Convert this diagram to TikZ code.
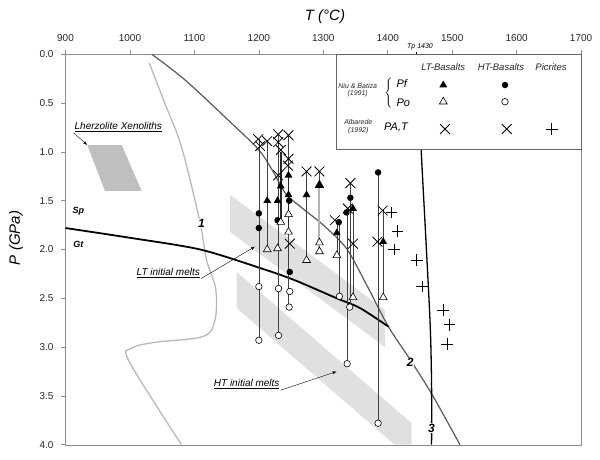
\documentclass[tikz,border=0pt]{standalone}
\usepackage{fontspec}
\setmainfont{Liberation Sans}
\usetikzlibrary{shapes.geometric}
\usetikzlibrary{shapes.misc}
\usetikzlibrary{arrows.meta}

\begin{document}
\begin{tikzpicture}[x=1pt, y=-1pt,
    axis/.style={draw=black!45, line width=0.6pt},
    tick/.style={font=\fontsize{10}{12}\selectfont, text=black!85},
    note/.style={font=\fontsize{10}{12}\selectfont\itshape, inner sep=1pt},
    lg/.style={font=\fontsize{9.5}{11}\selectfont\itshape, text=black!85},
    cnum/.style={font=\fontsize{12}{14}\selectfont\bfseries\itshape, fill=white, inner sep=0.5pt},
    arr/.style={-{Latex[length=4pt,width=3pt]}, line width=0.4pt},
    col/.style={draw=black!75, line width=0.5pt},
    ftri/.style={regular polygon, regular polygon sides=3, fill=black, inner sep=0pt, minimum size=9pt},
    otri/.style={regular polygon, regular polygon sides=3, draw=black, fill=white, line width=0.6pt, inner sep=0pt, minimum size=9pt},
    fdot/.style={circle, fill=black, inner sep=0pt, minimum size=6.5pt},
    odot/.style={circle, draw=black, fill=white, line width=0.6pt, inner sep=0pt, minimum size=6.5pt},
    xmk/.style={cross out, draw=black, line width=0.8pt, inner sep=0pt, minimum size=9pt},
    pmk/.style={cross out, draw=black, line width=0.8pt, inner sep=0pt, minimum size=7.5pt, rotate=45}]
\useasboundingbox (0,0) rectangle (600,459);

% frame, ticks, axis titles
\draw[axis] (65.5,54.3) rectangle (581,445);
\foreach \v [count=\k from 0] in {900,1000,...,1700} {
    \draw[axis] (65.5+64.45*\k,54.3) -- ++(0,-4);
    \node[tick] (tx\k) at (65.5+64.45*\k,38.5) {\v};
}
\foreach \v [count=\k from 0] in {0.0,0.5,1.0,1.5,2.0,2.5,3.0,3.5,4.0} {
    \draw[axis] (65.5,54.3+48.8*\k) -- ++(-5,0);
    \node[tick, anchor=east] (ty\k) at (57,54.3+48.8*\k) {\v};
}
\node[font=\fontsize{15}{18}\selectfont\itshape] (tlab) at (325,17) {T (°C)};
\node[font=\fontsize{15}{18}\selectfont\itshape, rotate=90] (plab) at (16,238) {P (GPa)};
\draw[black, line width=0.8pt] (416.7,54.3) -- ++(0,-2.5);
\node[font=\fontsize{7}{8}\selectfont\itshape] (tp) at (420,46.5) {Tp 1430};

\begin{scope}[x=0.6445pt, y=-97.6pt, shift={(-514.55pt,-54.3pt)}]
    % melt bands and xenolith field
    \fill[gray!24] (1155.5,1.44) -- (1395.9,2.62) -- (1395.9,3.0) -- (1155.5,1.82) -- cycle;
    \fill[gray!24] (1165.6,2.23) -- (1437.2,3.78) -- (1437.2,4.0) -- (1410.8,4.0) -- (1165.6,2.6) -- cycle;
    \fill[gray!50] (933.8,0.93) -- (987.2,0.93) -- (1018.2,1.4) -- (961.3,1.4) -- cycle;
    \coordinate (lzc) at (933.8,0.93);
    \coordinate (ltb) at (1194,1.97);
    \coordinate (htb) at (1320.8,3.25);

    % curves 1, 2, 3 and Sp/Gt
    \draw[gray!55, line width=1.3pt] plot[smooth, tension=0.55] coordinates {(1030,0.09) (1054,0.50) (1080,0.95) (1108,1.70) (1119,2.11) (1133,2.40) (1132,2.72) (1114,2.89) (1040,2.95) (1003,3.01) (999,3.15) (1080,4.0)};
    \draw[black!65, line width=1.2pt] plot[smooth] coordinates {(1034,0) (1085,0.26) (1155,0.69) (1200,0.98) (1222,1.20) (1242,1.43) (1268,1.58) (1300,1.75) (1336,1.99) (1367,2.36) (1401,2.79) (1436,3.14) (1470,3.50) (1512,4.0)};
    \draw[black, line width=1.3pt] plot[smooth] coordinates {(1445,0) (1452,1.0) (1460,2.0) (1466,2.8) (1468,3.4) (1468,4.0)};
    \draw[black, line width=1.8pt] plot[smooth] coordinates {(900,1.78) (1000,1.88) (1109,2.0) (1202,2.19) (1254,2.31) (1321,2.50) (1357,2.60) (1401,2.79)};
    \node[cnum] (n1) at (1111,1.73) {1};
    \node[cnum] (n2) at (1435,3.16) {2};
    \node[cnum] (n3) at (1468,3.83) {3};

    % sample columns
    \foreach \t/\pa/\pb in {1200/0.87/2.93, 1213/0.89/2.00, 1230.5/0.82/2.88, 1246/0.83/2.59, 1274/1.20/2.11, 1294/1.20/2.02, 1321/1.70/2.06, 1325/1.72/2.48, 1337/1.60/3.17, 1342/1.32/2.59, 1346/1.58/2.49, 1385/1.21/3.78, 1393/1.60/2.49}
        \draw[col] (\t,\pa) -- (\t,\pb);
    \draw[black!85, line width=1.5pt] (1234,1.0) -- (1234,1.72);
    \draw[black!85, line width=1.5pt] (1246,1.24) -- (1246,1.82);
    \draw[gray!60, line width=2pt] (1294,1.34) -- (1294,2.0);

    \foreach \t/\p [count=\i] in {1199/0.87, 1202/0.94, 1213/0.89, 1230/0.82, 1230/0.90, 1234/0.98, 1246/0.83, 1246/1.07, 1245/1.14, 1230/1.24, 1248/1.94, 1274/1.20, 1294/1.20, 1318/1.70, 1338/1.58, 1342/1.32, 1346/1.94, 1384/1.92, 1392/1.60}
        \node[xmk] (xa\i) at (\t,\p) {};
    \foreach \t/\p [count=\i] in {1213/1.50, 1229/1.50, 1234/1.35, 1246/1.24, 1246/1.44, 1274/1.44, 1321/1.83, 1346/1.58, 1393/1.92}
        \node[ftri] (fa\i) at (\t,\p) {};
    \node[ftri, minimum size=11pt] (fbig) at (1294,1.34) {};
    \foreach \t/\p [count=\i] in {1200/1.63, 1200/1.78, 1229/1.70, 1247/1.50, 1248/2.23, 1324/1.72, 1336/1.62, 1342/1.47, 1385/1.21}
        \node[fdot] (fd\i) at (\t,\p) {};
    \foreach \t/\p [count=\i] in {1213/2.00, 1229/1.99, 1234/1.72, 1246/1.64, 1246/1.82, 1274/2.11, 1294/1.93, 1294/2.02, 1321/2.06, 1346/2.49, 1393/2.49}
        \node[otri] (oa\i) at (\t,\p) {};
    \foreach \t/\p [count=\i] in {1200/2.38, 1200/2.93, 1230.5/2.40, 1230.5/2.88, 1248/2.43, 1247/2.59, 1325/2.48, 1341/2.59, 1337/3.17, 1385/3.78}
        \node[odot] (od\i) at (\t,\p) {};
    \foreach \t/\p [count=\i] in {1406/1.62, 1415/1.81, 1410/2.00, 1445/2.11, 1453/2.38, 1486/2.62, 1496/2.77, 1492/2.97}
        \node[pmk] (pc\i) at (\t,\p) {};
\end{scope}

% field labels
\node[font=\fontsize{9}{10}\selectfont\bfseries\itshape] (sp) at (78.3,211.7) {Sp};
\node[font=\fontsize{9}{10}\selectfont\bfseries\itshape] (gt) at (78.3,244.3) {Gt};
\node[note] (lherz) at (118.3,126.7) {\underline{Lherzolite Xenoliths}};
\draw[arr] (lherz.south west) -- (lzc);
\node[note] (ltm) at (168.3,272.7) {\underline{LT initial melts}};
\draw[arr] (ltm.south east) -- (ltb);
\node[note] (htm) at (246.7,384.3) {\underline{HT initial melts}};
\draw[arr] (htm.south east) -- (htb);

% legend
\draw[draw=black!60, fill=white, line width=0.6pt] (336,54.3) rectangle (581,149);
\node[lg] (hlt) at (443.3,66.7) {LT-Basalts};
\node[lg] (hht) at (501,66.7) {HT-Basalts};
\node[lg] (hpc) at (551,66.7) {Picrites};
\node[font=\fontsize{7}{7.5}\selectfont\itshape, align=center, text=black!85] (niu) at (357.7,90.3) {Niu \& Batiza\\(1991)};
\node[inner sep=0pt] (brc) at (389,93.5) {$\left\{\vcenter{\hbox{\rule{0pt}{30pt}}}\right.$};
\node[font=\fontsize{11}{12}\selectfont\itshape, anchor=west] (pf) at (393,84) {Pf};
\node[font=\fontsize{11}{12}\selectfont\itshape, anchor=west] (po) at (393,102.3) {Po};
\node[font=\fontsize{7}{7.5}\selectfont\itshape, align=center, text=black!85] (alb) at (358.3,126.5) {Albarede\\(1992)};
\node[font=\fontsize{11}{12}\selectfont\itshape] (pat) at (396,127.7) {PA,T};
\node[ftri] (lf1) at (443.3,85) {};
\node[otri] (lo1) at (443.3,101.7) {};
\node[fdot] (lf2) at (505,85) {};
\node[odot] (lo2) at (505,101.7) {};
\node[xmk] (lx1) at (445,129) {};
\node[xmk] (lx2) at (506.7,129) {};
\node[pmk] (lp1) at (551.7,129) {};
\end{tikzpicture}
\end{document}
